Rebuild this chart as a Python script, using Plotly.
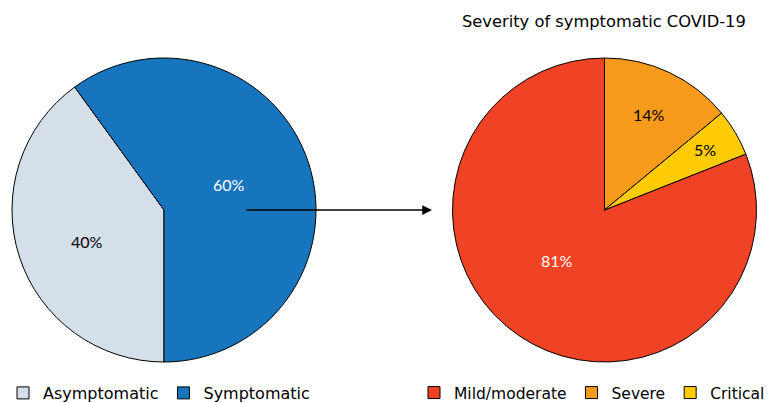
import plotly.graph_objects as go

W, H = 776, 403

# data
left_labels = ["Asymptomatic", "Symptomatic"]
left_values = [40, 60]
left_colors = ["#d5dfea", "#1775bd"]

right_labels = ["Mild/moderate", "Severe", "Critical"]
right_values = [81, 14, 5]
right_colors = ["#f04325", "#f89b1c", "#fecb05"]

title_text = "Severity of symptomatic COVID-19"

def px_x(x):
    return x / W

def px_y(y):
    return (H - y) / H

R = 152
lc = (164, 210)
rc = (604.5, 210)

fig = go.Figure()
fig.add_trace(go.Pie(
    labels=left_labels, values=left_values, sort=False, direction="clockwise",
    rotation=180, textinfo="none", hoverinfo="label+percent",
    marker=dict(colors=left_colors, line=dict(color="black", width=1)),
    domain=dict(x=[px_x(lc[0] - R), px_x(lc[0] + R)], y=[px_y(lc[1] + R), px_y(lc[1] - R)]),
    legend="legend",
))
fig.add_trace(go.Pie(
    labels=right_labels, values=right_values, sort=False, direction="clockwise",
    rotation=360 * (1 - right_values[0] / sum(right_values)), textinfo="none",
    hoverinfo="label+percent",
    marker=dict(colors=right_colors, line=dict(color="black", width=1)),
    domain=dict(x=[px_x(rc[0] - R), px_x(rc[0] + R)], y=[px_y(rc[1] + R), px_y(rc[1] - R)]),
    legend="legend2",
))

label_font = "Lato"
annos = []
pct_pos = [
    ((87, 241), f"{left_values[0]}%", "black"),
    ((229, 184), f"{left_values[1]}%", "white"),
    ((557, 260), f"{right_values[0]}%", "white"),
    ((649, 114), f"{right_values[1]}%", "black"),
    ((705, 150), f"{right_values[2]}%", "black"),
]
for (x, y), t, c in pct_pos:
    annos.append(dict(x=px_x(x), y=px_y(y), xref="paper", yref="paper", text=t,
                      showarrow=False, font=dict(family=label_font, size=16, color=c),
                      xanchor="center", yanchor="middle"))

annos.append(dict(x=px_x(604), y=px_y(22), xref="paper", yref="paper", text=title_text,
                  showarrow=False, font=dict(family="DejaVu Sans", size=16.3, color="black"),
                  xanchor="center", yanchor="middle"))

# arrow from the symptomatic slice to the severity pie
annos.append(dict(x=px_x(432), y=px_y(210), ax=245 - 432, ay=0,
                  xref="paper", yref="paper", axref="pixel", ayref="pixel",
                  text="", showarrow=True, arrowhead=2, arrowsize=1.3, arrowwidth=1.5,
                  arrowcolor="black"))

fig.update_layout(
    width=W, height=H, margin=dict(l=0, r=0, t=0, b=0, autoexpand=False),
    paper_bgcolor="white", plot_bgcolor="white",
    annotations=annos,
    font=dict(family="DejaVu Sans", size=16, color="black"),
    legend=dict(orientation="h", x=px_x(3), y=px_y(393), xanchor="left", yanchor="middle",
                font=dict(size=16), itemclick=False, bgcolor="rgba(0,0,0,0)"),
    legend2=dict(orientation="h", x=px_x(414), y=px_y(393), xanchor="left", yanchor="middle",
                 font=dict(size=15.5), itemclick=False, bgcolor="rgba(0,0,0,0)"),
)

post = """
document.documentElement.style.margin = '0';
document.documentElement.style.overflow = 'hidden';
document.body.style.margin = '0';
document.body.style.overflow = 'hidden';
"""

fig.write_html("out.html", post_script=post, config=dict(displayModeBar=False))
